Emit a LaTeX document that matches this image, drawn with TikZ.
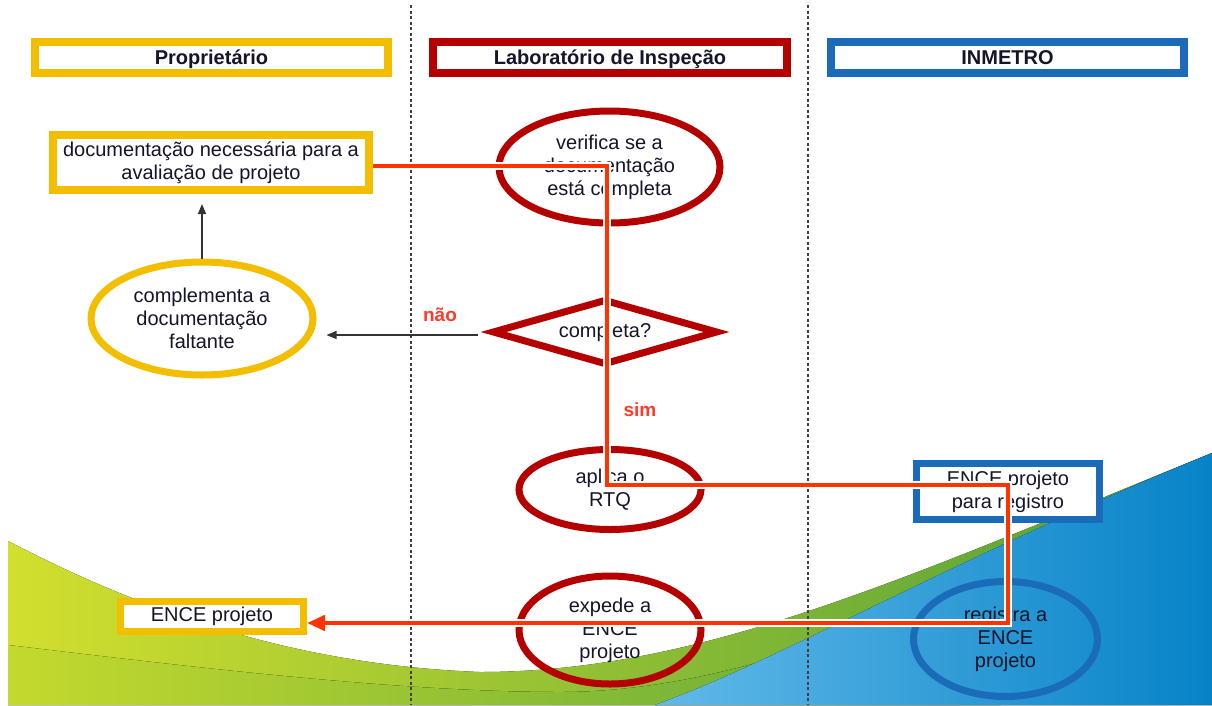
\documentclass[tikz,border=0pt]{standalone}
\usepackage{fontspec}
\setmainfont{Liberation Sans}
\usetikzlibrary{shapes.geometric,arrows.meta}
\definecolor{gold}{HTML}{F4BE00}
\definecolor{darkred}{HTML}{B50000}
\definecolor{lblue}{HTML}{1A6CB8}
\definecolor{flow}{HTML}{FF3300}
\definecolor{labred}{HTML}{FF3A2A}
\definecolor{txt}{HTML}{15152A}
\definecolor{ygreen}{HTML}{D2DF2E}
\definecolor{mgreen}{HTML}{4E9E3A}
\definecolor{lowleft}{HTML}{C4D92E}
\definecolor{lowright}{HTML}{5AA63B}
\definecolor{bluelt}{HTML}{62B9E8}
\definecolor{bluedk}{HTML}{0683C8}
\begin{document}
\begin{tikzpicture}[x=1pt,y=-1pt,
  every node/.style={font=\fontsize{20}{23}\selectfont, text=txt, inner sep=0pt, align=center},
  header/.style={rectangle, line width=8pt, fill=white, minimum width=353pt, minimum height=31pt, text height=14.5pt, text depth=0pt, font=\fontsize{20}{23}\selectfont\bfseries},
  box/.style={rectangle, fill=white, line width=7pt},
  oval/.style={ellipse, line width=7pt},
  blk/.style={draw=black!80, line width=1.3pt, -{Triangle[length=10pt,width=8pt]}},
  flowline/.style={draw=flow, line width=4.5pt, line join=miter, -{Triangle[length=18pt,width=15pt]}},
  casing/.style={draw=white, line width=7.5pt, line join=miter},
  sep/.style={draw=black!75, line width=1.1pt, dash pattern=on 3pt off 2.5pt},
  lbl/.style={text=labred, font=\fontsize{19}{22}\selectfont\bfseries}
]
\useasboundingbox (0,0) rectangle (1212,705);
% background swooshes
\fill[left color=ygreen, right color=mgreen]
  (8,541) .. controls (150,615) and (300,665) .. (480,672)
  .. controls (700,672) and (900,580) .. (1212,453) -- (1212,705) -- (8,705) -- cycle;
\fill[left color=lowleft, right color=lowright]
  (8,645) .. controls (200,668) and (400,692) .. (560,692)
  .. controls (700,692) and (850,640) .. (1000,570) -- (1000,705) -- (8,705) -- cycle;
\fill[left color=bluelt, right color=bluedk]
  (655,705) .. controls (780,660) and (950,560) .. (1212,453) -- (1212,705) -- cycle;
% lane separators
\draw[sep] (411,5) -- (411,705);
\draw[sep] (808,5) -- (808,705);
% headers
\node[header, draw=gold] (hp) at (211.5,57.5) {Proprietário};
\node[header, draw=darkred, minimum width=354pt] (hl) at (610,57.5) {Laboratório de Inspeção};
\node[header, draw=lblue] (hi) at (1007.5,57.5) {INMETRO};
% Proprietario lane
\node[box, draw=gold, line width=8pt, minimum width=316pt, minimum height=55pt] (doc) at (211,162.5) {documentação necessária para a\\avaliação de projeto};
\node[oval, draw=gold, fill=white, minimum width=222pt, minimum height=113pt] (comp) at (202,318.5) {complementa a\\documentação\\faltante};
\node[box, draw=gold, minimum width=183pt, minimum height=30pt] (encep) at (212,616.5) {ENCE projeto};
% Laboratorio lane
\node[oval, draw=darkred, fill=white, minimum width=221pt, minimum height=112pt] (ver) at (609.5,167) {verifica se a\\documentação\\está completa};
\node[diamond, draw=darkred, line width=7pt, fill=white, minimum width=226pt, minimum height=66pt, aspect=3.4] (q) at (605,332) {completa?};
\node[oval, draw=darkred, fill=white, minimum width=182pt, minimum height=80pt] (apl) at (610,489.5) {aplica o\\RTQ};
\node[oval, draw=darkred, minimum width=182pt, minimum height=108pt] (exp) at (610,630) {expede a\\ENCE\\projeto};
% INMETRO lane
\node[box, draw=lblue, minimum width=183pt, minimum height=56pt] (reg) at (1008,491.5) {ENCE projeto\\para registro};
\node[oval, draw=lblue, minimum width=184pt, minimum height=115pt] (rga) at (1005.5,639) {registra a\\ENCE\\projeto};
% black connectors
\draw[blk, shorten <=11pt, shorten >=10pt] ([yshift=-3pt]q.west) -- ([yshift=-3pt]q.west -| comp.east);
\node[lbl] (nao) at (440,315) {não};
\draw[blk, shorten >=10pt] (comp.north) -- (comp.north |- doc.south);
% red flow
\coordinate (b1) at (607,166);
\coordinate (b2) at (607,485);
\coordinate (b3) at (1008,485);
\coordinate (b4) at (1008,623);
\draw[casing, shorten >=17pt] (doc.east |- b1) -- (b1) -- (b2) -- (b3) -- (b4) -- (encep.east |- b4);
\draw[flowline] (doc.east |- b1) -- (b1) -- (b2) -- (b3) -- (b4) -- (encep.east |- b4);
\node[lbl] (sim) at (640,410) {sim};
\end{tikzpicture}
\end{document}
